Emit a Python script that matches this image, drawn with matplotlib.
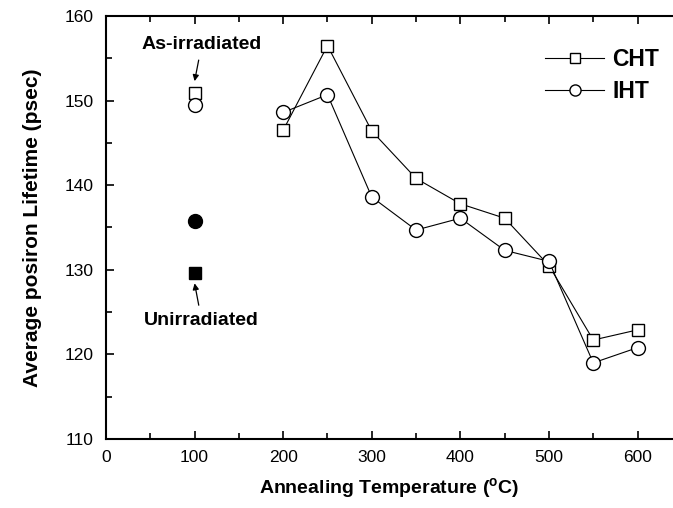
import matplotlib
matplotlib.use("Agg")
import matplotlib.pyplot as plt
from matplotlib.ticker import MultipleLocator

plt.rcParams['font.family'] = ['Liberation Sans', 'DejaVu Sans']
plt.rcParams['mathtext.fontset'] = 'custom'
plt.rcParams['mathtext.rm'] = 'Liberation Sans:bold'

# annealed samples
temps = [200, 250, 300, 350, 400, 450, 500, 550, 600]
cht = [146.5, 156.5, 146.4, 140.8, 137.8, 136.1, 130.5, 121.7, 122.9]
iht = [148.6, 150.7, 138.6, 134.7, 136.1, 132.3, 131.0, 119.0, 120.8]

# reference points drawn at 100 C
ref_x = 100
as_irr_cht = 150.9
as_irr_iht = 149.5
unirr_iht = 135.8
unirr_cht = 129.6

fig = plt.figure(figsize=(6.73, 5.08), dpi=100)
ax = fig.add_axes([106/673, 69/508, 567/673, 423/508])

ms = 9
ax.plot(temps, cht, '-s', color='black', lw=0.8, ms=ms, mfc='white', mew=1.0, label='CHT')
ax.plot(temps, iht, '-o', color='black', lw=0.8, ms=ms + 1, mfc='white', mew=1.0, label='IHT')
ax.plot([ref_x], [as_irr_cht], 's', color='black', ms=ms, mfc='white', mew=1.0)
ax.plot([ref_x], [as_irr_iht], 'o', color='black', ms=ms + 1, mfc='white', mew=1.0)
ax.plot([ref_x], [unirr_iht], 'o', color='black', ms=ms + 1)
ax.plot([ref_x], [unirr_cht], 's', color='black', ms=ms)

arrow = dict(arrowstyle='-|>', color='black', lw=0.9, mutation_scale=9, shrinkA=3, shrinkB=0)
ax.annotate('As-irradiated', xy=(ref_x, 152.3), xytext=(ref_x + 8, 155.6),
            ha='center', va='bottom', fontsize=14, fontweight='bold', arrowprops=arrow)
ax.annotate('Unirradiated', xy=(ref_x, 128.4), xytext=(ref_x + 8, 125.0),
            ha='center', va='top', fontsize=14, fontweight='bold', arrowprops=arrow)

ax.set_xlim(0, 640)
ax.set_ylim(110, 160)
ax.xaxis.set_major_locator(MultipleLocator(100))
ax.xaxis.set_minor_locator(MultipleLocator(50))
ax.yaxis.set_major_locator(MultipleLocator(10))
ax.yaxis.set_minor_locator(MultipleLocator(5))
ax.tick_params(which='both', direction='in', top=True, right=False, width=1.2, labelsize=12.5)
ax.tick_params(axis='x', pad=8)
ax.tick_params(axis='y', pad=9)
ax.tick_params(which='major', length=6)
ax.tick_params(which='minor', length=4)
ax.spines['right'].set_visible(False)
for s in ['left', 'bottom', 'top']:
    ax.spines[s].set_linewidth(1.5)

ax.set_xlabel(r'Annealing Temperature ($^{\mathrm{o}}$C)', fontsize=14, fontweight='bold', labelpad=8)
ax.set_ylabel('Average posiron Lifetime (psec)', fontsize=15, fontweight='bold', labelpad=16)

leg = ax.legend(loc='upper left', frameon=False, handlelength=2.6, handletextpad=0.35,
                prop={'weight': 'bold', 'size': 16.5}, borderaxespad=0.0, borderpad=0.0,
                labelspacing=0.4, markerscale=0.8, bbox_to_anchor=(0.774, 0.925))

fig.savefig('out.png', dpi=100)
